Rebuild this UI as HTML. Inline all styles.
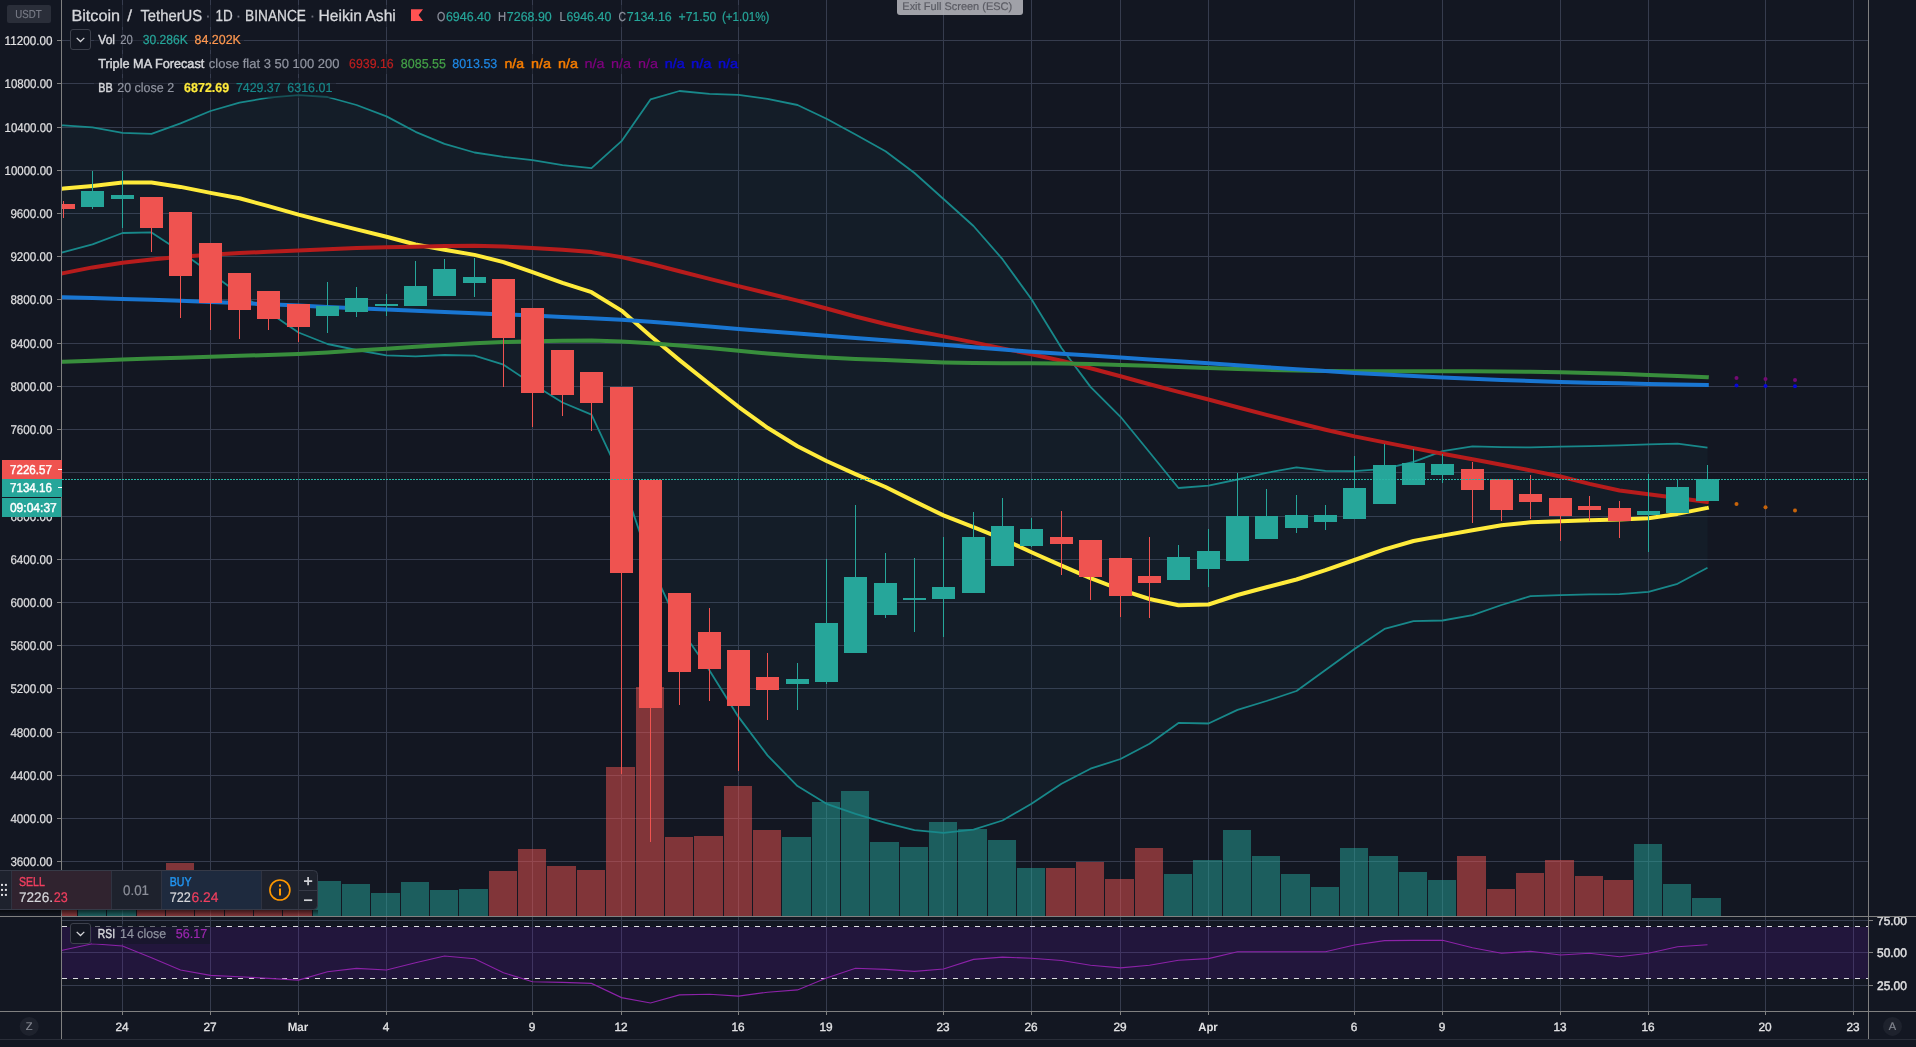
<!DOCTYPE html>
<html><head><meta charset="utf-8"><title>BTCUSDT</title>
<style>html,body{margin:0;padding:0;background:#131722;overflow:hidden}svg{display:block}text{font-family:"Liberation Sans",sans-serif;text-rendering:geometricPrecision}svg{will-change:transform}</style>
</head><body>
<svg width="1916" height="1047" viewBox="0 0 1916 1047" font-family="Liberation Sans, sans-serif" shape-rendering="auto"><rect width="1916" height="1047" fill="#131722"/>
<defs><clipPath id="main"><rect x="62" y="0" width="1806" height="916"/></clipPath><clipPath id="rsic"><rect x="62" y="917" width="1806" height="94"/></clipPath><clipPath id="rsil"><rect x="1869" y="917" width="47" height="94"/></clipPath><linearGradient id="sh" x1="0" y1="0" x2="0" y2="1"><stop offset="0" stop-color="#000" stop-opacity="0.55"/><stop offset="1" stop-color="#000" stop-opacity="0"/></linearGradient></defs>
<rect x="62" y="40" width="1806" height="1" fill="#363c4e" />
<rect x="62" y="83" width="1806" height="1" fill="#363c4e" />
<rect x="62" y="127" width="1806" height="1" fill="#363c4e" />
<rect x="62" y="170" width="1806" height="1" fill="#363c4e" />
<rect x="62" y="213" width="1806" height="1" fill="#363c4e" />
<rect x="62" y="256" width="1806" height="1" fill="#363c4e" />
<rect x="62" y="299" width="1806" height="1" fill="#363c4e" />
<rect x="62" y="343" width="1806" height="1" fill="#363c4e" />
<rect x="62" y="386" width="1806" height="1" fill="#363c4e" />
<rect x="62" y="429" width="1806" height="1" fill="#363c4e" />
<rect x="62" y="472" width="1806" height="1" fill="#363c4e" />
<rect x="62" y="516" width="1806" height="1" fill="#363c4e" />
<rect x="62" y="559" width="1806" height="1" fill="#363c4e" />
<rect x="62" y="602" width="1806" height="1" fill="#363c4e" />
<rect x="62" y="645" width="1806" height="1" fill="#363c4e" />
<rect x="62" y="688" width="1806" height="1" fill="#363c4e" />
<rect x="62" y="732" width="1806" height="1" fill="#363c4e" />
<rect x="62" y="775" width="1806" height="1" fill="#363c4e" />
<rect x="62" y="818" width="1806" height="1" fill="#363c4e" />
<rect x="62" y="861" width="1806" height="1" fill="#363c4e" />
<rect x="122" y="0" width="1" height="916" fill="#363c4e" />
<rect x="210" y="0" width="1" height="916" fill="#363c4e" />
<rect x="298" y="0" width="1" height="916" fill="#363c4e" />
<rect x="386" y="0" width="1" height="916" fill="#363c4e" />
<rect x="532" y="0" width="1" height="916" fill="#363c4e" />
<rect x="621" y="0" width="1" height="916" fill="#363c4e" />
<rect x="738" y="0" width="1" height="916" fill="#363c4e" />
<rect x="826" y="0" width="1" height="916" fill="#363c4e" />
<rect x="943" y="0" width="1" height="916" fill="#363c4e" />
<rect x="1031" y="0" width="1" height="916" fill="#363c4e" />
<rect x="1120" y="0" width="1" height="916" fill="#363c4e" />
<rect x="1208" y="0" width="1" height="916" fill="#363c4e" />
<rect x="1354" y="0" width="1" height="916" fill="#363c4e" />
<rect x="1442" y="0" width="1" height="916" fill="#363c4e" />
<rect x="1560" y="0" width="1" height="916" fill="#363c4e" />
<rect x="1648" y="0" width="1" height="916" fill="#363c4e" />
<rect x="1765" y="0" width="1" height="916" fill="#363c4e" />
<rect x="1853" y="0" width="1" height="916" fill="#363c4e" />
<g clip-path="url(#main)">
<polygon points="33.5,123.4 63.5,125.4 92.5,127.4 122.5,132.8 151.5,133.8 180.5,123.4 210.5,111.0 239.5,102.6 268.5,97.7 298.5,95.2 327.5,97.0 356.5,105.0 386.5,116.4 415.5,131.8 444.5,143.8 474.5,152.5 503.5,156.8 532.5,160.2 562.5,165.2 591.5,168.2 621.5,141.2 650.5,99.4 679.5,91.0 709.5,93.8 738.5,94.8 767.5,98.8 797.5,105.0 826.5,118.8 855.5,134.5 885.5,151.2 914.5,173.0 943.5,199.0 973.5,226.0 1002.5,259.2 1031.5,299.3 1061.5,348.0 1090.5,386.9 1120.5,416.8 1149.5,452.3 1178.5,488.0 1208.5,485.7 1237.5,479.5 1266.5,472.8 1296.5,467.4 1325.5,470.8 1354.5,471.1 1384.5,468.8 1413.5,461.8 1442.5,451.1 1472.5,446.4 1501.5,447.1 1530.5,447.4 1560.5,446.7 1589.5,446.1 1619.5,445.4 1648.5,444.4 1677.5,443.7 1707.5,447.7 1707.5,567.7 1677.5,583.8 1648.5,591.8 1619.5,594.1 1589.5,594.4 1560.5,595.1 1530.5,596.1 1501.5,605.0 1472.5,615.1 1442.5,620.5 1413.5,621.2 1384.5,628.9 1354.5,648.9 1325.5,670.0 1296.5,691.0 1266.5,701.0 1237.5,709.9 1208.5,723.5 1178.5,722.9 1149.5,743.7 1120.5,759.0 1090.5,768.7 1061.5,783.8 1031.5,803.8 1002.5,820.5 973.5,829.6 943.5,832.9 914.5,830.2 885.5,822.9 855.5,813.9 826.5,803.8 797.5,786.1 767.5,755.4 738.5,716.9 709.5,670.5 679.5,627.4 650.5,563.9 621.5,478.7 591.5,414.7 562.5,402.5 532.5,384.1 503.5,364.7 474.5,355.7 444.5,355.0 415.5,356.4 386.5,355.3 356.5,350.0 327.5,344.0 298.5,332.5 268.5,312.0 239.5,294.0 210.5,273.0 180.5,251.5 151.5,232.4 122.5,233.0 92.5,244.4 63.5,252.1 33.5,259.8" fill="#26a69a" fill-opacity="0.05"/>
<rect x="48" y="885" width="29" height="31" fill="#ef5350" fill-opacity="0.5"/>
<rect x="78" y="880" width="28" height="36" fill="#26a69a" fill-opacity="0.5"/>
<rect x="107" y="878" width="29" height="38" fill="#26a69a" fill-opacity="0.5"/>
<rect x="137" y="882" width="28" height="34" fill="#ef5350" fill-opacity="0.5"/>
<rect x="166" y="863" width="28" height="53" fill="#ef5350" fill-opacity="0.5"/>
<rect x="195" y="880" width="29" height="36" fill="#ef5350" fill-opacity="0.5"/>
<rect x="225" y="884" width="28" height="32" fill="#ef5350" fill-opacity="0.5"/>
<rect x="254" y="886" width="28" height="30" fill="#ef5350" fill-opacity="0.5"/>
<rect x="283" y="884" width="29" height="32" fill="#ef5350" fill-opacity="0.5"/>
<rect x="313" y="881" width="28" height="35" fill="#26a69a" fill-opacity="0.5"/>
<rect x="342" y="884" width="28" height="32" fill="#26a69a" fill-opacity="0.5"/>
<rect x="371" y="893" width="29" height="23" fill="#26a69a" fill-opacity="0.5"/>
<rect x="401" y="882" width="28" height="34" fill="#26a69a" fill-opacity="0.5"/>
<rect x="430" y="890" width="28" height="26" fill="#26a69a" fill-opacity="0.5"/>
<rect x="459" y="889" width="29" height="27" fill="#26a69a" fill-opacity="0.5"/>
<rect x="489" y="871" width="28" height="45" fill="#ef5350" fill-opacity="0.5"/>
<rect x="518" y="849" width="28" height="67" fill="#ef5350" fill-opacity="0.5"/>
<rect x="547" y="866" width="29" height="50" fill="#ef5350" fill-opacity="0.5"/>
<rect x="577" y="870" width="28" height="46" fill="#ef5350" fill-opacity="0.5"/>
<rect x="606" y="767" width="29" height="149" fill="#ef5350" fill-opacity="0.5"/>
<rect x="636" y="687" width="28" height="229" fill="#ef5350" fill-opacity="0.5"/>
<rect x="665" y="837" width="28" height="79" fill="#ef5350" fill-opacity="0.5"/>
<rect x="694" y="836" width="29" height="80" fill="#ef5350" fill-opacity="0.5"/>
<rect x="724" y="786" width="28" height="130" fill="#ef5350" fill-opacity="0.5"/>
<rect x="753" y="830" width="28" height="86" fill="#ef5350" fill-opacity="0.5"/>
<rect x="782" y="837" width="29" height="79" fill="#26a69a" fill-opacity="0.5"/>
<rect x="812" y="802" width="28" height="114" fill="#26a69a" fill-opacity="0.5"/>
<rect x="841" y="791" width="28" height="125" fill="#26a69a" fill-opacity="0.5"/>
<rect x="870" y="842" width="29" height="74" fill="#26a69a" fill-opacity="0.5"/>
<rect x="900" y="847" width="28" height="69" fill="#26a69a" fill-opacity="0.5"/>
<rect x="929" y="822" width="28" height="94" fill="#26a69a" fill-opacity="0.5"/>
<rect x="958" y="829" width="29" height="87" fill="#26a69a" fill-opacity="0.5"/>
<rect x="988" y="840" width="28" height="76" fill="#26a69a" fill-opacity="0.5"/>
<rect x="1017" y="868" width="28" height="48" fill="#26a69a" fill-opacity="0.5"/>
<rect x="1046" y="868" width="29" height="48" fill="#ef5350" fill-opacity="0.5"/>
<rect x="1076" y="862" width="28" height="54" fill="#ef5350" fill-opacity="0.5"/>
<rect x="1105" y="879" width="29" height="37" fill="#ef5350" fill-opacity="0.5"/>
<rect x="1135" y="848" width="28" height="68" fill="#ef5350" fill-opacity="0.5"/>
<rect x="1164" y="874" width="28" height="42" fill="#26a69a" fill-opacity="0.5"/>
<rect x="1193" y="860" width="29" height="56" fill="#26a69a" fill-opacity="0.5"/>
<rect x="1223" y="830" width="28" height="86" fill="#26a69a" fill-opacity="0.5"/>
<rect x="1252" y="856" width="28" height="60" fill="#26a69a" fill-opacity="0.5"/>
<rect x="1281" y="874" width="29" height="42" fill="#26a69a" fill-opacity="0.5"/>
<rect x="1311" y="887" width="28" height="29" fill="#26a69a" fill-opacity="0.5"/>
<rect x="1340" y="848" width="28" height="68" fill="#26a69a" fill-opacity="0.5"/>
<rect x="1369" y="856" width="29" height="60" fill="#26a69a" fill-opacity="0.5"/>
<rect x="1399" y="872" width="28" height="44" fill="#26a69a" fill-opacity="0.5"/>
<rect x="1428" y="880" width="28" height="36" fill="#26a69a" fill-opacity="0.5"/>
<rect x="1457" y="856" width="29" height="60" fill="#ef5350" fill-opacity="0.5"/>
<rect x="1487" y="889" width="28" height="27" fill="#ef5350" fill-opacity="0.5"/>
<rect x="1516" y="873" width="28" height="43" fill="#ef5350" fill-opacity="0.5"/>
<rect x="1545" y="860" width="29" height="56" fill="#ef5350" fill-opacity="0.5"/>
<rect x="1575" y="876" width="28" height="40" fill="#ef5350" fill-opacity="0.5"/>
<rect x="1604" y="880" width="29" height="36" fill="#ef5350" fill-opacity="0.5"/>
<rect x="1634" y="844" width="28" height="72" fill="#26a69a" fill-opacity="0.5"/>
<rect x="1663" y="884" width="28" height="32" fill="#26a69a" fill-opacity="0.5"/>
<rect x="1692" y="898" width="29" height="18" fill="#26a69a" fill-opacity="0.5"/>
<path d="M33.5,191.3 L63.5,188.6 L92.5,185.9 L122.5,182.6 L151.5,182.6 L180.5,186.9 L210.5,192.9 L239.5,198.3 L268.5,206.1 L298.5,214.6 L327.5,222.1 L356.5,229.4 L386.5,236.8 L415.5,244.5 L444.5,249.7 L474.5,254.9 L503.5,262.1 L532.5,272.1 L562.5,282.8 L591.5,292.2 L621.5,310.6 L650.5,336.0 L679.5,360.1 L709.5,384.0 L738.5,406.8 L767.5,427.8 L797.5,446.3 L826.5,461.0 L855.5,474.1 L885.5,487.0 L914.5,501.4 L943.5,515.4 L973.5,527.2 L1002.5,538.8 L1031.5,552.2 L1061.5,565.6 L1090.5,578.2 L1120.5,589.6 L1149.5,599.0 L1178.5,605.3 L1208.5,604.5 L1237.5,595.0 L1266.5,587.3 L1296.5,579.5 L1325.5,570.2 L1354.5,560.0 L1384.5,549.3 L1413.5,541.0 L1442.5,535.6 L1472.5,530.3 L1501.5,525.3 L1530.5,522.3 L1560.5,521.2 L1589.5,520.3 L1619.5,519.4 L1648.5,518.2 L1677.5,513.9 L1707.5,507.9 L1708.8,507.6" fill="none" stroke="#ffeb3b" stroke-width="4" stroke-linejoin="round"/>
<path d="M33.5,123.4 L63.5,125.4 L92.5,127.4 L122.5,132.8 L151.5,133.8 L180.5,123.4 L210.5,111.0 L239.5,102.6 L268.5,97.7 L298.5,95.2 L327.5,97.0 L356.5,105.0 L386.5,116.4 L415.5,131.8 L444.5,143.8 L474.5,152.5 L503.5,156.8 L532.5,160.2 L562.5,165.2 L591.5,168.2 L621.5,141.2 L650.5,99.4 L679.5,91.0 L709.5,93.8 L738.5,94.8 L767.5,98.8 L797.5,105.0 L826.5,118.8 L855.5,134.5 L885.5,151.2 L914.5,173.0 L943.5,199.0 L973.5,226.0 L1002.5,259.2 L1031.5,299.3 L1061.5,348.0 L1090.5,386.9 L1120.5,416.8 L1149.5,452.3 L1178.5,488.0 L1208.5,485.7 L1237.5,479.5 L1266.5,472.8 L1296.5,467.4 L1325.5,470.8 L1354.5,471.1 L1384.5,468.8 L1413.5,461.8 L1442.5,451.1 L1472.5,446.4 L1501.5,447.1 L1530.5,447.4 L1560.5,446.7 L1589.5,446.1 L1619.5,445.4 L1648.5,444.4 L1677.5,443.7 L1707.5,447.7" fill="none" stroke="#18888a" stroke-width="1.8" stroke-linejoin="round"/>
<path d="M33.5,259.8 L63.5,252.1 L92.5,244.4 L122.5,233.0 L151.5,232.4 L180.5,251.5 L210.5,273.0 L239.5,294.0 L268.5,312.0 L298.5,332.5 L327.5,344.0 L356.5,350.0 L386.5,355.3 L415.5,356.4 L444.5,355.0 L474.5,355.7 L503.5,364.7 L532.5,384.1 L562.5,402.5 L591.5,414.7 L621.5,478.7 L650.5,563.9 L679.5,627.4 L709.5,670.5 L738.5,716.9 L767.5,755.4 L797.5,786.1 L826.5,803.8 L855.5,813.9 L885.5,822.9 L914.5,830.2 L943.5,832.9 L973.5,829.6 L1002.5,820.5 L1031.5,803.8 L1061.5,783.8 L1090.5,768.7 L1120.5,759.0 L1149.5,743.7 L1178.5,722.9 L1208.5,723.5 L1237.5,709.9 L1266.5,701.0 L1296.5,691.0 L1325.5,670.0 L1354.5,648.9 L1384.5,628.9 L1413.5,621.2 L1442.5,620.5 L1472.5,615.1 L1501.5,605.0 L1530.5,596.1 L1560.5,595.1 L1589.5,594.4 L1619.5,594.1 L1648.5,591.8 L1677.5,583.8 L1707.5,567.7" fill="none" stroke="#18888a" stroke-width="1.8" stroke-linejoin="round"/>
<path d="M33.5,278.8 L63.5,273.1 L92.5,267.4 L122.5,262.8 L151.5,259.4 L180.5,256.8 L210.5,254.7 L239.5,253.1 L268.5,251.7 L298.5,250.4 L327.5,249.2 L356.5,248.1 L386.5,247.3 L415.5,246.7 L444.5,246.1 L474.5,245.7 L503.5,246.5 L532.5,248.1 L562.5,249.7 L591.5,252.1 L621.5,257.1 L650.5,263.7 L679.5,271.3 L709.5,278.9 L738.5,286.1 L767.5,293.2 L797.5,300.6 L826.5,308.5 L855.5,316.5 L885.5,324.0 L914.5,330.5 L943.5,336.4 L973.5,342.4 L1002.5,348.4 L1031.5,354.3 L1061.5,360.8 L1090.5,368.2 L1120.5,376.2 L1149.5,384.2 L1178.5,391.9 L1208.5,399.5 L1237.5,407.2 L1266.5,414.9 L1296.5,422.5 L1325.5,429.7 L1354.5,436.4 L1384.5,442.4 L1413.5,448.1 L1442.5,453.7 L1472.5,459.3 L1501.5,464.8 L1530.5,470.4 L1560.5,476.5 L1589.5,483.9 L1619.5,490.5 L1648.5,494.2 L1677.5,498.0 L1707.5,501.9 L1708.8,502.1" fill="none" stroke="#b71c1c" stroke-width="4" stroke-linejoin="round"/>
<path d="M33.5,362.7 L63.5,361.7 L92.5,360.7 L122.5,359.6 L151.5,358.6 L180.5,357.7 L210.5,356.7 L239.5,355.8 L268.5,355.0 L298.5,354.0 L327.5,352.5 L356.5,350.6 L386.5,348.7 L415.5,346.8 L444.5,344.9 L474.5,343.3 L503.5,342.1 L532.5,341.3 L562.5,340.8 L591.5,340.6 L621.5,341.5 L650.5,343.2 L679.5,345.6 L709.5,348.1 L738.5,350.7 L767.5,353.5 L797.5,355.8 L826.5,357.5 L855.5,358.9 L885.5,360.1 L914.5,361.3 L943.5,362.5 L973.5,363.1 L1002.5,363.3 L1031.5,363.3 L1061.5,363.5 L1090.5,364.0 L1120.5,364.9 L1149.5,365.8 L1178.5,366.9 L1208.5,368.0 L1237.5,369.0 L1266.5,369.8 L1296.5,370.5 L1325.5,371.0 L1354.5,371.2 L1384.5,371.2 L1413.5,371.2 L1442.5,371.2 L1472.5,371.3 L1501.5,371.5 L1530.5,371.8 L1560.5,372.2 L1589.5,372.9 L1619.5,373.8 L1648.5,374.9 L1677.5,376.0 L1707.5,377.2 L1708.8,377.3" fill="none" stroke="#388e3c" stroke-width="4" stroke-linejoin="round"/>
<path d="M33.5,296.4 L63.5,297.2 L92.5,298.0 L122.5,298.9 L151.5,299.8 L180.5,300.8 L210.5,301.9 L239.5,303.0 L268.5,304.3 L298.5,305.6 L327.5,307.0 L356.5,308.3 L386.5,309.6 L415.5,310.8 L444.5,312.0 L474.5,313.2 L503.5,314.4 L532.5,315.6 L562.5,316.9 L591.5,318.2 L621.5,319.7 L650.5,321.7 L679.5,324.1 L709.5,326.6 L738.5,329.0 L767.5,331.2 L797.5,333.5 L826.5,335.7 L855.5,338.0 L885.5,340.2 L914.5,342.5 L943.5,344.8 L973.5,347.2 L1002.5,349.6 L1031.5,351.8 L1061.5,353.8 L1090.5,355.6 L1120.5,357.5 L1149.5,359.4 L1178.5,361.3 L1208.5,363.2 L1237.5,365.2 L1266.5,367.2 L1296.5,369.2 L1325.5,371.1 L1354.5,372.9 L1384.5,374.6 L1413.5,376.1 L1442.5,377.5 L1472.5,378.8 L1501.5,379.9 L1530.5,381.0 L1560.5,381.9 L1589.5,382.7 L1619.5,383.3 L1648.5,383.9 L1677.5,384.4 L1707.5,384.9 L1708.8,384.9" fill="none" stroke="#1976d2" stroke-width="4" stroke-linejoin="round"/>
<rect x="63" y="201" width="1" height="17" fill="#ef5350" />
<rect x="52" y="204" width="23" height="5" fill="#ef5350" />
<rect x="92" y="171" width="1" height="38" fill="#26a69a" />
<rect x="81" y="191" width="23" height="16" fill="#26a69a" />
<rect x="122" y="171" width="1" height="57" fill="#26a69a" />
<rect x="111" y="195" width="23" height="4" fill="#26a69a" />
<rect x="151" y="197" width="1" height="55" fill="#ef5350" />
<rect x="140" y="197" width="23" height="31" fill="#ef5350" />
<rect x="180" y="212" width="1" height="106" fill="#ef5350" />
<rect x="169" y="212" width="23" height="64" fill="#ef5350" />
<rect x="210" y="243" width="1" height="87" fill="#ef5350" />
<rect x="199" y="243" width="23" height="60" fill="#ef5350" />
<rect x="239" y="273" width="1" height="66" fill="#ef5350" />
<rect x="228" y="273" width="23" height="37" fill="#ef5350" />
<rect x="268" y="291" width="1" height="39" fill="#ef5350" />
<rect x="257" y="291" width="23" height="28" fill="#ef5350" />
<rect x="298" y="304" width="1" height="38" fill="#ef5350" />
<rect x="287" y="304" width="23" height="23" fill="#ef5350" />
<rect x="327" y="282" width="1" height="51" fill="#26a69a" />
<rect x="316" y="306" width="23" height="10" fill="#26a69a" />
<rect x="356" y="287" width="1" height="30" fill="#26a69a" />
<rect x="345" y="298" width="23" height="14" fill="#26a69a" />
<rect x="386" y="294" width="1" height="22" fill="#26a69a" />
<rect x="375" y="304" width="23" height="2" fill="#26a69a" />
<rect x="415" y="261" width="1" height="45" fill="#26a69a" />
<rect x="404" y="286" width="23" height="20" fill="#26a69a" />
<rect x="444" y="259" width="1" height="37" fill="#26a69a" />
<rect x="433" y="269" width="23" height="27" fill="#26a69a" />
<rect x="474" y="258" width="1" height="39" fill="#26a69a" />
<rect x="463" y="277" width="23" height="6" fill="#26a69a" />
<rect x="503" y="279" width="1" height="108" fill="#ef5350" />
<rect x="492" y="279" width="23" height="59" fill="#ef5350" />
<rect x="532" y="308" width="1" height="119" fill="#ef5350" />
<rect x="521" y="308" width="23" height="85" fill="#ef5350" />
<rect x="562" y="350" width="1" height="66" fill="#ef5350" />
<rect x="551" y="350" width="23" height="45" fill="#ef5350" />
<rect x="591" y="372" width="1" height="59" fill="#ef5350" />
<rect x="580" y="372" width="23" height="31" fill="#ef5350" />
<rect x="621" y="387" width="1" height="387" fill="#ef5350" />
<rect x="610" y="387" width="23" height="186" fill="#ef5350" />
<rect x="650" y="480" width="1" height="362" fill="#ef5350" />
<rect x="639" y="480" width="23" height="228" fill="#ef5350" />
<rect x="679" y="593" width="1" height="112" fill="#ef5350" />
<rect x="668" y="593" width="23" height="79" fill="#ef5350" />
<rect x="709" y="608" width="1" height="93" fill="#ef5350" />
<rect x="698" y="632" width="23" height="37" fill="#ef5350" />
<rect x="738" y="650" width="1" height="121" fill="#ef5350" />
<rect x="727" y="650" width="23" height="56" fill="#ef5350" />
<rect x="767" y="653" width="1" height="67" fill="#ef5350" />
<rect x="756" y="677" width="23" height="13" fill="#ef5350" />
<rect x="797" y="663" width="1" height="47" fill="#26a69a" />
<rect x="786" y="679" width="23" height="5" fill="#26a69a" />
<rect x="826" y="559" width="1" height="125" fill="#26a69a" />
<rect x="815" y="623" width="23" height="59" fill="#26a69a" />
<rect x="855" y="505" width="1" height="148" fill="#26a69a" />
<rect x="844" y="577" width="23" height="76" fill="#26a69a" />
<rect x="885" y="553" width="1" height="65" fill="#26a69a" />
<rect x="874" y="583" width="23" height="32" fill="#26a69a" />
<rect x="914" y="558" width="1" height="74" fill="#26a69a" />
<rect x="903" y="598" width="23" height="2" fill="#26a69a" />
<rect x="943" y="537" width="1" height="100" fill="#26a69a" />
<rect x="932" y="587" width="23" height="12" fill="#26a69a" />
<rect x="973" y="512" width="1" height="81" fill="#26a69a" />
<rect x="962" y="537" width="23" height="56" fill="#26a69a" />
<rect x="1002" y="498" width="1" height="68" fill="#26a69a" />
<rect x="991" y="526" width="23" height="40" fill="#26a69a" />
<rect x="1031" y="518" width="1" height="29" fill="#26a69a" />
<rect x="1020" y="529" width="23" height="17" fill="#26a69a" />
<rect x="1061" y="511" width="1" height="64" fill="#ef5350" />
<rect x="1050" y="537" width="23" height="7" fill="#ef5350" />
<rect x="1090" y="540" width="1" height="60" fill="#ef5350" />
<rect x="1079" y="540" width="23" height="37" fill="#ef5350" />
<rect x="1120" y="558" width="1" height="59" fill="#ef5350" />
<rect x="1109" y="558" width="23" height="38" fill="#ef5350" />
<rect x="1149" y="537" width="1" height="81" fill="#ef5350" />
<rect x="1138" y="576" width="23" height="7" fill="#ef5350" />
<rect x="1178" y="545" width="1" height="35" fill="#26a69a" />
<rect x="1167" y="557" width="23" height="23" fill="#26a69a" />
<rect x="1208" y="529" width="1" height="58" fill="#26a69a" />
<rect x="1197" y="551" width="23" height="18" fill="#26a69a" />
<rect x="1237" y="473" width="1" height="88" fill="#26a69a" />
<rect x="1226" y="516" width="23" height="45" fill="#26a69a" />
<rect x="1266" y="489" width="1" height="50" fill="#26a69a" />
<rect x="1255" y="516" width="23" height="23" fill="#26a69a" />
<rect x="1296" y="495" width="1" height="38" fill="#26a69a" />
<rect x="1285" y="515" width="23" height="13" fill="#26a69a" />
<rect x="1325" y="505" width="1" height="25" fill="#26a69a" />
<rect x="1314" y="515" width="23" height="7" fill="#26a69a" />
<rect x="1354" y="456" width="1" height="63" fill="#26a69a" />
<rect x="1343" y="488" width="23" height="31" fill="#26a69a" />
<rect x="1384" y="444" width="1" height="60" fill="#26a69a" />
<rect x="1373" y="465" width="23" height="39" fill="#26a69a" />
<rect x="1413" y="449" width="1" height="36" fill="#26a69a" />
<rect x="1402" y="463" width="23" height="22" fill="#26a69a" />
<rect x="1442" y="454" width="1" height="29" fill="#26a69a" />
<rect x="1431" y="464" width="23" height="11" fill="#26a69a" />
<rect x="1472" y="462" width="1" height="61" fill="#ef5350" />
<rect x="1461" y="469" width="23" height="21" fill="#ef5350" />
<rect x="1501" y="479" width="1" height="42" fill="#ef5350" />
<rect x="1490" y="479" width="23" height="31" fill="#ef5350" />
<rect x="1530" y="475" width="1" height="44" fill="#ef5350" />
<rect x="1519" y="494" width="23" height="8" fill="#ef5350" />
<rect x="1560" y="498" width="1" height="43" fill="#ef5350" />
<rect x="1549" y="498" width="23" height="18" fill="#ef5350" />
<rect x="1589" y="496" width="1" height="25" fill="#ef5350" />
<rect x="1578" y="506" width="23" height="4" fill="#ef5350" />
<rect x="1619" y="501" width="1" height="37" fill="#ef5350" />
<rect x="1608" y="508" width="23" height="13" fill="#ef5350" />
<rect x="1648" y="474" width="1" height="78" fill="#26a69a" />
<rect x="1637" y="511" width="23" height="4" fill="#26a69a" />
<rect x="1677" y="479" width="1" height="34" fill="#26a69a" />
<rect x="1666" y="487" width="23" height="26" fill="#26a69a" />
<rect x="1707" y="465" width="1" height="36" fill="#26a69a" />
<rect x="1696" y="479" width="23" height="22" fill="#26a69a" />
<circle cx="1736.5" cy="377.9" r="2" fill="#740a74"/>
<circle cx="1736.5" cy="385.6" r="2" fill="#0808d4"/>
<circle cx="1736.5" cy="503.9" r="2" fill="#c8640a"/>
<circle cx="1765.5" cy="378.9" r="2" fill="#740a74"/>
<circle cx="1765.5" cy="385.9" r="2" fill="#0808d4"/>
<circle cx="1765.5" cy="507.2" r="2" fill="#c8640a"/>
<circle cx="1795" cy="379.9" r="2" fill="#740a74"/>
<circle cx="1795" cy="386.2" r="2" fill="#0808d4"/>
<circle cx="1795" cy="510.6" r="2" fill="#c8640a"/>
<line x1="62" y1="479.5" x2="1868" y2="479.5" stroke="#28b5a4" stroke-width="1" stroke-dasharray="2 1"/>
</g>
<rect x="61" y="0" width="1" height="1040" fill="#808080" />
<rect x="1868" y="0" width="1" height="1040" fill="#808080" />
<rect x="0" y="916" width="1916" height="1" fill="#808080" />
<rect x="0" y="1011" width="1916" height="1" fill="#808080" />
<rect x="0" y="1039" width="1916" height="1" fill="#2a2e39" />
<text x="4.6" y="45" font-size="12.6" fill="#e0e0e2" stroke="#e0e0e2" stroke-width="0.2" textLength="47.8" lengthAdjust="spacingAndGlyphs" >11200.00</text>
<rect x="57" y="40" width="4" height="1" fill="#808080" />
<text x="4.6" y="88" font-size="12.6" fill="#e0e0e2" stroke="#e0e0e2" stroke-width="0.2" textLength="47.8" lengthAdjust="spacingAndGlyphs" >10800.00</text>
<rect x="57" y="83" width="4" height="1" fill="#808080" />
<text x="4.6" y="132" font-size="12.6" fill="#e0e0e2" stroke="#e0e0e2" stroke-width="0.2" textLength="47.8" lengthAdjust="spacingAndGlyphs" >10400.00</text>
<rect x="57" y="127" width="4" height="1" fill="#808080" />
<text x="4.6" y="175" font-size="12.6" fill="#e0e0e2" stroke="#e0e0e2" stroke-width="0.2" textLength="47.8" lengthAdjust="spacingAndGlyphs" >10000.00</text>
<rect x="57" y="170" width="4" height="1" fill="#808080" />
<text x="10.4" y="218" font-size="12.6" fill="#e0e0e2" stroke="#e0e0e2" stroke-width="0.2" textLength="42.0" lengthAdjust="spacingAndGlyphs" >9600.00</text>
<rect x="57" y="213" width="4" height="1" fill="#808080" />
<text x="10.4" y="261" font-size="12.6" fill="#e0e0e2" stroke="#e0e0e2" stroke-width="0.2" textLength="42.0" lengthAdjust="spacingAndGlyphs" >9200.00</text>
<rect x="57" y="256" width="4" height="1" fill="#808080" />
<text x="10.4" y="304" font-size="12.6" fill="#e0e0e2" stroke="#e0e0e2" stroke-width="0.2" textLength="42.0" lengthAdjust="spacingAndGlyphs" >8800.00</text>
<rect x="57" y="299" width="4" height="1" fill="#808080" />
<text x="10.4" y="348" font-size="12.6" fill="#e0e0e2" stroke="#e0e0e2" stroke-width="0.2" textLength="42.0" lengthAdjust="spacingAndGlyphs" >8400.00</text>
<rect x="57" y="343" width="4" height="1" fill="#808080" />
<text x="10.4" y="391" font-size="12.6" fill="#e0e0e2" stroke="#e0e0e2" stroke-width="0.2" textLength="42.0" lengthAdjust="spacingAndGlyphs" >8000.00</text>
<rect x="57" y="386" width="4" height="1" fill="#808080" />
<text x="10.4" y="434" font-size="12.6" fill="#e0e0e2" stroke="#e0e0e2" stroke-width="0.2" textLength="42.0" lengthAdjust="spacingAndGlyphs" >7600.00</text>
<rect x="57" y="429" width="4" height="1" fill="#808080" />
<text x="10.4" y="477" font-size="12.6" fill="#e0e0e2" stroke="#e0e0e2" stroke-width="0.2" textLength="42.0" lengthAdjust="spacingAndGlyphs" >7200.00</text>
<rect x="57" y="472" width="4" height="1" fill="#808080" />
<text x="10.4" y="521" font-size="12.6" fill="#e0e0e2" stroke="#e0e0e2" stroke-width="0.2" textLength="42.0" lengthAdjust="spacingAndGlyphs" >6800.00</text>
<rect x="57" y="516" width="4" height="1" fill="#808080" />
<text x="10.4" y="564" font-size="12.6" fill="#e0e0e2" stroke="#e0e0e2" stroke-width="0.2" textLength="42.0" lengthAdjust="spacingAndGlyphs" >6400.00</text>
<rect x="57" y="559" width="4" height="1" fill="#808080" />
<text x="10.4" y="607" font-size="12.6" fill="#e0e0e2" stroke="#e0e0e2" stroke-width="0.2" textLength="42.0" lengthAdjust="spacingAndGlyphs" >6000.00</text>
<rect x="57" y="602" width="4" height="1" fill="#808080" />
<text x="10.4" y="650" font-size="12.6" fill="#e0e0e2" stroke="#e0e0e2" stroke-width="0.2" textLength="42.0" lengthAdjust="spacingAndGlyphs" >5600.00</text>
<rect x="57" y="645" width="4" height="1" fill="#808080" />
<text x="10.4" y="693" font-size="12.6" fill="#e0e0e2" stroke="#e0e0e2" stroke-width="0.2" textLength="42.0" lengthAdjust="spacingAndGlyphs" >5200.00</text>
<rect x="57" y="688" width="4" height="1" fill="#808080" />
<text x="10.4" y="737" font-size="12.6" fill="#e0e0e2" stroke="#e0e0e2" stroke-width="0.2" textLength="42.0" lengthAdjust="spacingAndGlyphs" >4800.00</text>
<rect x="57" y="732" width="4" height="1" fill="#808080" />
<text x="10.4" y="780" font-size="12.6" fill="#e0e0e2" stroke="#e0e0e2" stroke-width="0.2" textLength="42.0" lengthAdjust="spacingAndGlyphs" >4400.00</text>
<rect x="57" y="775" width="4" height="1" fill="#808080" />
<text x="10.4" y="823" font-size="12.6" fill="#e0e0e2" stroke="#e0e0e2" stroke-width="0.2" textLength="42.0" lengthAdjust="spacingAndGlyphs" >4000.00</text>
<rect x="57" y="818" width="4" height="1" fill="#808080" />
<text x="10.4" y="866" font-size="12.6" fill="#e0e0e2" stroke="#e0e0e2" stroke-width="0.2" textLength="42.0" lengthAdjust="spacingAndGlyphs" >3600.00</text>
<rect x="57" y="861" width="4" height="1" fill="#808080" />
<rect x="2" y="460" width="60" height="19" fill="#ef5350" />
<text x="10" y="474.1" font-size="12.9" fill="#fff" stroke="#fff" stroke-width="0.45" textLength="41.9" lengthAdjust="spacingAndGlyphs" >7226.57</text>
<rect x="58" y="469" width="4" height="1" fill="#fff" />
<rect x="2" y="479" width="60" height="18" fill="#26a69a" />
<text x="10" y="492.1" font-size="12.9" fill="#fff" stroke="#fff" stroke-width="0.45" textLength="41.9" lengthAdjust="spacingAndGlyphs" >7134.16</text>
<rect x="58" y="487" width="4" height="1" fill="#fff" />
<rect x="2" y="498" width="59" height="19" fill="#26a69a" />
<text x="9.9" y="512.1" font-size="12.9" fill="#fff" stroke="#fff" stroke-width="0.45" textLength="46.9" lengthAdjust="spacingAndGlyphs" >09:04:37</text>
<rect x="62" y="920" width="1806" height="1" fill="#363c4e" />
<rect x="62" y="952" width="1806" height="1" fill="#363c4e" />
<rect x="62" y="985" width="1806" height="1" fill="#363c4e" />
<rect x="122" y="917" width="1" height="94" fill="#363c4e" />
<rect x="210" y="917" width="1" height="94" fill="#363c4e" />
<rect x="298" y="917" width="1" height="94" fill="#363c4e" />
<rect x="386" y="917" width="1" height="94" fill="#363c4e" />
<rect x="532" y="917" width="1" height="94" fill="#363c4e" />
<rect x="621" y="917" width="1" height="94" fill="#363c4e" />
<rect x="738" y="917" width="1" height="94" fill="#363c4e" />
<rect x="826" y="917" width="1" height="94" fill="#363c4e" />
<rect x="943" y="917" width="1" height="94" fill="#363c4e" />
<rect x="1031" y="917" width="1" height="94" fill="#363c4e" />
<rect x="1120" y="917" width="1" height="94" fill="#363c4e" />
<rect x="1208" y="917" width="1" height="94" fill="#363c4e" />
<rect x="1354" y="917" width="1" height="94" fill="#363c4e" />
<rect x="1442" y="917" width="1" height="94" fill="#363c4e" />
<rect x="1560" y="917" width="1" height="94" fill="#363c4e" />
<rect x="1648" y="917" width="1" height="94" fill="#363c4e" />
<rect x="1765" y="917" width="1" height="94" fill="#363c4e" />
<rect x="1853" y="917" width="1" height="94" fill="#363c4e" />
<rect x="62" y="927" width="1806" height="52" fill="#6e14be" fill-opacity="0.17"/>
<line x1="62" y1="926.5" x2="1868" y2="926.5" stroke="#dcdce0" stroke-width="1" stroke-dasharray="5 6"/>
<line x1="62" y1="978.5" x2="1868" y2="978.5" stroke="#dcdce0" stroke-width="1" stroke-dasharray="5 6"/>
<path d="M33.5,956.3 L63.5,950.0 L92.5,943.7 L122.5,946.0 L151.5,957.7 L180.5,970.0 L210.5,975.4 L239.5,976.7 L268.5,978.4 L298.5,980.1 L327.5,971.7 L356.5,968.4 L386.5,970.0 L415.5,962.7 L444.5,956.0 L474.5,958.7 L503.5,972.7 L532.5,981.8 L562.5,982.4 L591.5,983.4 L621.5,997.6 L650.5,1003.0 L679.5,994.9 L709.5,994.2 L738.5,996.1 L767.5,992.2 L797.5,989.9 L826.5,977.9 L855.5,968.3 L885.5,969.4 L914.5,971.4 L943.5,969.0 L973.5,959.4 L1002.5,957.1 L1031.5,958.2 L1061.5,960.5 L1090.5,965.2 L1120.5,967.9 L1149.5,965.2 L1178.5,960.2 L1208.5,958.6 L1237.5,951.7 L1266.5,951.7 L1296.5,951.7 L1325.5,951.7 L1354.5,945.0 L1384.5,940.6 L1413.5,940.4 L1442.5,940.3 L1472.5,947.7 L1501.5,953.3 L1530.5,951.3 L1560.5,955.0 L1589.5,953.3 L1619.5,956.7 L1648.5,953.3 L1677.5,946.7 L1707.5,944.7" fill="none" stroke="#8c22a8" stroke-width="1.1" clip-path="url(#rsic)"/>
<rect x="1869" y="920" width="4" height="1" fill="#808080" />
<rect x="1869" y="952" width="4" height="1" fill="#808080" />
<rect x="1869" y="985" width="4" height="1" fill="#808080" />
<g clip-path="url(#rsil)">
<text x="1877" y="924.8" font-size="12.4" fill="#e0e0e2" stroke="#e0e0e2" stroke-width="0.45" textLength="29.9" lengthAdjust="spacingAndGlyphs" >75.00</text>
<text x="1877" y="957" font-size="12.4" fill="#e0e0e2" stroke="#e0e0e2" stroke-width="0.45" textLength="29.9" lengthAdjust="spacingAndGlyphs" >50.00</text>
<text x="1877" y="989.8" font-size="12.4" fill="#e0e0e2" stroke="#e0e0e2" stroke-width="0.45" textLength="29.9" lengthAdjust="spacingAndGlyphs" >25.00</text>
</g>
<rect x="92" y="924" width="118" height="20" fill="#131722" fill-opacity="0.55"/>
<rect x="70.5" y="923.5" width="20" height="20" fill="#131722" stroke="#3c404b" rx="2.5"/>
<path d="M76.7,931.9 L80.5,935.5 L84.3,931.9" fill="none" stroke="#d6d7db" stroke-width="1.3"/>
<text x="97.8" y="938.3" font-size="13" fill="#d6d7db" stroke="#d6d7db" stroke-width="0.45" textLength="17.2" lengthAdjust="spacingAndGlyphs" >RSI</text>
<text x="120" y="938.3" font-size="13" fill="#9094a0" stroke="#9094a0" stroke-width="0.2" textLength="46.2" lengthAdjust="spacingAndGlyphs" >14 close</text>
<text x="175.7" y="938.3" font-size="13" fill="#9c27b0" stroke="#9c27b0" stroke-width="0.2" textLength="31.5" lengthAdjust="spacingAndGlyphs" >56.17</text>
<rect x="122" y="1012" width="1" height="3" fill="#808080" />
<text x="115.4" y="1031" font-size="12" fill="#e0e0e2" stroke="#e0e0e2" stroke-width="0.35" textLength="13.2" lengthAdjust="spacingAndGlyphs" >24</text>
<rect x="210" y="1012" width="1" height="3" fill="#808080" />
<text x="203.4" y="1031" font-size="12" fill="#e0e0e2" stroke="#e0e0e2" stroke-width="0.35" textLength="13.2" lengthAdjust="spacingAndGlyphs" >27</text>
<rect x="298" y="1012" width="1" height="3" fill="#808080" />
<text x="287.7" y="1031" font-size="12" fill="#e0e0e2" textLength="20.6" lengthAdjust="spacingAndGlyphs" font-weight="bold" >Mar</text>
<rect x="386" y="1012" width="1" height="3" fill="#808080" />
<text x="382.7" y="1031" font-size="12" fill="#e0e0e2" stroke="#e0e0e2" stroke-width="0.35" textLength="6.6" lengthAdjust="spacingAndGlyphs" >4</text>
<rect x="532" y="1012" width="1" height="3" fill="#808080" />
<text x="528.7" y="1031" font-size="12" fill="#e0e0e2" stroke="#e0e0e2" stroke-width="0.35" textLength="6.6" lengthAdjust="spacingAndGlyphs" >9</text>
<rect x="621" y="1012" width="1" height="3" fill="#808080" />
<text x="614.4" y="1031" font-size="12" fill="#e0e0e2" stroke="#e0e0e2" stroke-width="0.35" textLength="13.2" lengthAdjust="spacingAndGlyphs" >12</text>
<rect x="738" y="1012" width="1" height="3" fill="#808080" />
<text x="731.4" y="1031" font-size="12" fill="#e0e0e2" stroke="#e0e0e2" stroke-width="0.35" textLength="13.2" lengthAdjust="spacingAndGlyphs" >16</text>
<rect x="826" y="1012" width="1" height="3" fill="#808080" />
<text x="819.4" y="1031" font-size="12" fill="#e0e0e2" stroke="#e0e0e2" stroke-width="0.35" textLength="13.2" lengthAdjust="spacingAndGlyphs" >19</text>
<rect x="943" y="1012" width="1" height="3" fill="#808080" />
<text x="936.4" y="1031" font-size="12" fill="#e0e0e2" stroke="#e0e0e2" stroke-width="0.35" textLength="13.2" lengthAdjust="spacingAndGlyphs" >23</text>
<rect x="1031" y="1012" width="1" height="3" fill="#808080" />
<text x="1024.4" y="1031" font-size="12" fill="#e0e0e2" stroke="#e0e0e2" stroke-width="0.35" textLength="13.2" lengthAdjust="spacingAndGlyphs" >26</text>
<rect x="1120" y="1012" width="1" height="3" fill="#808080" />
<text x="1113.4" y="1031" font-size="12" fill="#e0e0e2" stroke="#e0e0e2" stroke-width="0.35" textLength="13.2" lengthAdjust="spacingAndGlyphs" >29</text>
<rect x="1208" y="1012" width="1" height="3" fill="#808080" />
<text x="1198.2" y="1031" font-size="12" fill="#e0e0e2" textLength="19.6" lengthAdjust="spacingAndGlyphs" font-weight="bold" >Apr</text>
<rect x="1354" y="1012" width="1" height="3" fill="#808080" />
<text x="1350.7" y="1031" font-size="12" fill="#e0e0e2" stroke="#e0e0e2" stroke-width="0.35" textLength="6.6" lengthAdjust="spacingAndGlyphs" >6</text>
<rect x="1442" y="1012" width="1" height="3" fill="#808080" />
<text x="1438.7" y="1031" font-size="12" fill="#e0e0e2" stroke="#e0e0e2" stroke-width="0.35" textLength="6.6" lengthAdjust="spacingAndGlyphs" >9</text>
<rect x="1560" y="1012" width="1" height="3" fill="#808080" />
<text x="1553.4" y="1031" font-size="12" fill="#e0e0e2" stroke="#e0e0e2" stroke-width="0.35" textLength="13.2" lengthAdjust="spacingAndGlyphs" >13</text>
<rect x="1648" y="1012" width="1" height="3" fill="#808080" />
<text x="1641.4" y="1031" font-size="12" fill="#e0e0e2" stroke="#e0e0e2" stroke-width="0.35" textLength="13.2" lengthAdjust="spacingAndGlyphs" >16</text>
<rect x="1765" y="1012" width="1" height="3" fill="#808080" />
<text x="1758.4" y="1031" font-size="12" fill="#e0e0e2" stroke="#e0e0e2" stroke-width="0.35" textLength="13.2" lengthAdjust="spacingAndGlyphs" >20</text>
<rect x="1853" y="1012" width="1" height="3" fill="#808080" />
<text x="1846.4" y="1031" font-size="12" fill="#e0e0e2" stroke="#e0e0e2" stroke-width="0.35" textLength="13.2" lengthAdjust="spacingAndGlyphs" >23</text>
<circle cx="29.2" cy="1026.4" r="9.5" fill="#1e222d"/>
<text x="29.2" y="1030.3" font-size="11" fill="#858892" stroke="#858892" stroke-width="0.2" text-anchor="middle" >Z</text>
<circle cx="1892.5" cy="1026.4" r="9.5" fill="#1e222d"/>
<text x="1892.5" y="1030.3" font-size="11" fill="#858892" stroke="#858892" stroke-width="0.2" text-anchor="middle" >A</text>
<rect x="68" y="5" width="704" height="22" fill="#131722" fill-opacity="0.5"/>
<rect x="94" y="30" width="150" height="20" fill="#131722" fill-opacity="0.5"/>
<rect x="94" y="54" width="648" height="20" fill="#131722" fill-opacity="0.5"/>
<rect x="94" y="78" width="242" height="20" fill="#131722" fill-opacity="0.5"/>
<rect x="7" y="5" width="44" height="18" fill="#2a2e39" rx="2"/>
<text x="15.3" y="18" font-size="11.5" fill="#787b86" stroke="#787b86" stroke-width="0.2" textLength="26.3" lengthAdjust="spacingAndGlyphs" >USDT</text>
<text x="71.4" y="21" font-size="16" fill="#d6d7db" stroke="#d6d7db" stroke-width="0.3" textLength="48.7" lengthAdjust="spacingAndGlyphs" >Bitcoin</text>
<text x="127.2" y="21" font-size="16" fill="#d6d7db" stroke="#d6d7db" stroke-width="0.3" textLength="4.8" lengthAdjust="spacingAndGlyphs" >/</text>
<text x="140.4" y="21" font-size="16" fill="#d6d7db" stroke="#d6d7db" stroke-width="0.3" textLength="61.8" lengthAdjust="spacingAndGlyphs" >TetherUS</text>
<text x="207.8" y="21" font-size="16" fill="#6a6d78" stroke="#6a6d78" stroke-width="0.2" text-anchor="middle" >·</text>
<text x="215.4" y="21" font-size="16" fill="#d6d7db" stroke="#d6d7db" stroke-width="0.3" textLength="17.2" lengthAdjust="spacingAndGlyphs" >1D</text>
<text x="238.5" y="21" font-size="16" fill="#6a6d78" stroke="#6a6d78" stroke-width="0.2" text-anchor="middle" >·</text>
<text x="245.1" y="21" font-size="16" fill="#d6d7db" stroke="#d6d7db" stroke-width="0.3" textLength="60.9" lengthAdjust="spacingAndGlyphs" >BINANCE</text>
<text x="312.4" y="21" font-size="16" fill="#6a6d78" stroke="#6a6d78" stroke-width="0.2" text-anchor="middle" >·</text>
<text x="318.6" y="21" font-size="16" fill="#d6d7db" stroke="#d6d7db" stroke-width="0.3" textLength="77.2" lengthAdjust="spacingAndGlyphs" >Heikin Ashi</text>
<path d="M411,9.2 H423 L418.6,15 L423,20.9 H411 Z" fill="#ff5252"/>
<text x="437" y="20.9" font-size="13" fill="#9094a0" stroke="#9094a0" stroke-width="0.2" textLength="8.3" lengthAdjust="spacingAndGlyphs" >O</text>
<text x="445.9" y="20.9" font-size="13" fill="#26a69a" stroke="#26a69a" stroke-width="0.2" textLength="45.1" lengthAdjust="spacingAndGlyphs" >6946.40</text>
<text x="498.1" y="20.9" font-size="13" fill="#9094a0" stroke="#9094a0" stroke-width="0.2" textLength="8.1" lengthAdjust="spacingAndGlyphs" >H</text>
<text x="506.8" y="20.9" font-size="13" fill="#26a69a" stroke="#26a69a" stroke-width="0.2" textLength="45.0" lengthAdjust="spacingAndGlyphs" >7268.90</text>
<text x="559.5" y="20.9" font-size="13" fill="#9094a0" stroke="#9094a0" stroke-width="0.2" textLength="6.3" lengthAdjust="spacingAndGlyphs" >L</text>
<text x="566.4" y="20.9" font-size="13" fill="#26a69a" stroke="#26a69a" stroke-width="0.2" textLength="44.9" lengthAdjust="spacingAndGlyphs" >6946.40</text>
<text x="618.6" y="20.9" font-size="13" fill="#9094a0" stroke="#9094a0" stroke-width="0.2" textLength="7.5" lengthAdjust="spacingAndGlyphs" >C</text>
<text x="626.7" y="20.9" font-size="13" fill="#26a69a" stroke="#26a69a" stroke-width="0.2" textLength="45.1" lengthAdjust="spacingAndGlyphs" >7134.16</text>
<text x="678.5" y="20.9" font-size="13" fill="#26a69a" stroke="#26a69a" stroke-width="0.2" textLength="37.8" lengthAdjust="spacingAndGlyphs" >+71.50</text>
<text x="721.9" y="20.9" font-size="13" fill="#26a69a" stroke="#26a69a" stroke-width="0.2" textLength="47.6" lengthAdjust="spacingAndGlyphs" >(+1.01%)</text>
<rect x="70.5" y="29.5" width="20" height="20" fill="#131722" stroke="#3c404b" rx="2.5"/>
<path d="M76.7,37.9 L80.5,41.5 L84.3,37.9" fill="none" stroke="#d6d7db" stroke-width="1.3"/>
<text x="98.3" y="44.2" font-size="13" fill="#d6d7db" stroke="#d6d7db" stroke-width="0.45" textLength="16.7" lengthAdjust="spacingAndGlyphs" >Vol</text>
<text x="120.2" y="44.2" font-size="13" fill="#9094a0" stroke="#9094a0" stroke-width="0.2" textLength="12.6" lengthAdjust="spacingAndGlyphs" >20</text>
<text x="142.8" y="44.2" font-size="13" fill="#26a69a" stroke="#26a69a" stroke-width="0.2" textLength="45.1" lengthAdjust="spacingAndGlyphs" >30.286K</text>
<text x="194.6" y="44.2" font-size="13" fill="#ff9850" stroke="#ff9850" stroke-width="0.2" textLength="46.3" lengthAdjust="spacingAndGlyphs" >84.202K</text>
<text x="98.3" y="68" font-size="13" fill="#d6d7db" stroke="#d6d7db" stroke-width="0.45" textLength="106.0" lengthAdjust="spacingAndGlyphs" >Triple MA Forecast</text>
<text x="208.8" y="68" font-size="13" fill="#9094a0" stroke="#9094a0" stroke-width="0.2" textLength="130.7" lengthAdjust="spacingAndGlyphs" >close flat 3 50 100 200</text>
<text x="349" y="68" font-size="13" fill="#c01f1f" stroke="#c01f1f" stroke-width="0.2" textLength="44.7" lengthAdjust="spacingAndGlyphs" >6939.16</text>
<text x="400.8" y="68" font-size="13" fill="#43a047" stroke="#43a047" stroke-width="0.2" textLength="45.2" lengthAdjust="spacingAndGlyphs" >8085.55</text>
<text x="452.2" y="68" font-size="13" fill="#1e88e5" stroke="#1e88e5" stroke-width="0.2" textLength="45.1" lengthAdjust="spacingAndGlyphs" >8013.53</text>
<text x="504.4" y="68" font-size="13" fill="#f57c00" stroke="#f57c00" stroke-width="0.45" textLength="19.6" lengthAdjust="spacingAndGlyphs" >n/a</text>
<text x="531" y="68" font-size="13" fill="#f57c00" stroke="#f57c00" stroke-width="0.45" textLength="20.0" lengthAdjust="spacingAndGlyphs" >n/a</text>
<text x="558" y="68" font-size="13" fill="#f57c00" stroke="#f57c00" stroke-width="0.45" textLength="20.0" lengthAdjust="spacingAndGlyphs" >n/a</text>
<text x="584.5" y="68" font-size="13" fill="#800080" stroke="#800080" stroke-width="0.2" textLength="20.1" lengthAdjust="spacingAndGlyphs" >n/a</text>
<text x="611" y="68" font-size="13" fill="#800080" stroke="#800080" stroke-width="0.2" textLength="20.0" lengthAdjust="spacingAndGlyphs" >n/a</text>
<text x="638" y="68" font-size="13" fill="#800080" stroke="#800080" stroke-width="0.2" textLength="20.0" lengthAdjust="spacingAndGlyphs" >n/a</text>
<text x="664.7" y="68" font-size="13" fill="#0a0ad0" stroke="#0a0ad0" stroke-width="0.45" textLength="20.0" lengthAdjust="spacingAndGlyphs" >n/a</text>
<text x="691" y="68" font-size="13" fill="#0a0ad0" stroke="#0a0ad0" stroke-width="0.45" textLength="20.5" lengthAdjust="spacingAndGlyphs" >n/a</text>
<text x="718" y="68" font-size="13" fill="#0a0ad0" stroke="#0a0ad0" stroke-width="0.45" textLength="20.2" lengthAdjust="spacingAndGlyphs" >n/a</text>
<text x="98.3" y="92" font-size="13" fill="#d6d7db" stroke="#d6d7db" stroke-width="0.45" textLength="14.4" lengthAdjust="spacingAndGlyphs" >BB</text>
<text x="117.3" y="92" font-size="13" fill="#9094a0" stroke="#9094a0" stroke-width="0.2" textLength="56.8" lengthAdjust="spacingAndGlyphs" >20 close 2</text>
<text x="184.1" y="92" font-size="13" fill="#ffeb3b" stroke="#ffeb3b" stroke-width="0.2" textLength="45.1" lengthAdjust="spacingAndGlyphs" font-weight="bold" >6872.69</text>
<text x="235.9" y="92" font-size="13" fill="#18888a" stroke="#18888a" stroke-width="0.2" textLength="44.7" lengthAdjust="spacingAndGlyphs" >7429.37</text>
<text x="287.3" y="92" font-size="13" fill="#18888a" stroke="#18888a" stroke-width="0.2" textLength="45.1" lengthAdjust="spacingAndGlyphs" >6316.01</text>
<rect x="897" y="-4" width="126" height="19" fill="#b4b5bb" rx="3" fill-opacity="0.88"/>
<text x="902.3" y="9.9" font-size="11" fill="#5b5c64" stroke="#5b5c64" stroke-width="0.2" textLength="109.9" lengthAdjust="spacingAndGlyphs" >Exit Full Screen (ESC)</text>
<rect x="0" y="910" width="318" height="6" fill="url(#sh)" />
<path d="M-2,870.5 H313.5 a4,4 0 0 1 4,4 V905.5 a4,4 0 0 1 -4,4 H-2 Z" fill="#1e222d" stroke="#363a47"/>
<rect x="12" y="871" width="99" height="38" fill="#30232f" />
<rect x="162" y="871" width="99" height="38" fill="#1e2a3e" />
<line x1="11.5" y1="871" x2="11.5" y2="909" stroke="#2f3341"/>
<line x1="111.5" y1="871" x2="111.5" y2="909" stroke="#2f3341"/>
<line x1="161.5" y1="871" x2="161.5" y2="909" stroke="#2f3341"/>
<line x1="261.5" y1="871" x2="261.5" y2="909" stroke="#2f3341"/>
<line x1="298.5" y1="871" x2="298.5" y2="909" stroke="#2f3341"/>
<line x1="299" y1="890.5" x2="317" y2="890.5" stroke="#363a47"/>
<rect x="1" y="883.9" width="2" height="2" fill="#e0e0e4" />
<rect x="4.9" y="883.9" width="2" height="2" fill="#e0e0e4" />
<rect x="1" y="888.9" width="2" height="2" fill="#e0e0e4" />
<rect x="4.9" y="888.9" width="2" height="2" fill="#e0e0e4" />
<rect x="1" y="893.9" width="2" height="2" fill="#e0e0e4" />
<rect x="4.9" y="893.9" width="2" height="2" fill="#e0e0e4" />
<text x="19" y="886" font-size="12.8" fill="#f23f5f" stroke="#f23f5f" stroke-width="0.4" textLength="25.8" lengthAdjust="spacingAndGlyphs" >SELL</text>
<text x="19" y="901.8" font-size="14" fill="#d6d7db" stroke="#d6d7db" stroke-width="0.2" textLength="34.0" lengthAdjust="spacingAndGlyphs" >7226.</text>
<text x="53.7" y="901.8" font-size="14" fill="#f23f5f" stroke="#f23f5f" stroke-width="0.2" textLength="14.0" lengthAdjust="spacingAndGlyphs" >23</text>
<text x="123" y="895" font-size="14" fill="#8c8f99" stroke="#8c8f99" stroke-width="0.2" textLength="26.0" lengthAdjust="spacingAndGlyphs" >0.01</text>
<text x="169.7" y="886" font-size="12.8" fill="#2196f3" stroke="#2196f3" stroke-width="0.4" textLength="21.8" lengthAdjust="spacingAndGlyphs" >BUY</text>
<text x="169.7" y="901.8" font-size="14" fill="#d6d7db" stroke="#d6d7db" stroke-width="0.2" textLength="21.1" lengthAdjust="spacingAndGlyphs" >722</text>
<text x="191.5" y="901.8" font-size="14" fill="#f23f5f" stroke="#f23f5f" stroke-width="0.2" textLength="26.9" lengthAdjust="spacingAndGlyphs" >6.24</text>
<circle cx="279.9" cy="890" r="10" fill="none" stroke="#ff9800" stroke-width="1.6"/>
<rect x="279" y="888.5" width="2" height="7" fill="#ff9800" />
<rect x="279" y="884.5" width="2" height="2.2" fill="#ff9800" />
<path d="M304,881.2 H312.2 M308.1,877.1 V885.3" stroke="#d0d1d6" stroke-width="1.7"/>
<path d="M304,900.2 H312.2" stroke="#d0d1d6" stroke-width="1.7"/></svg>
</body></html>
